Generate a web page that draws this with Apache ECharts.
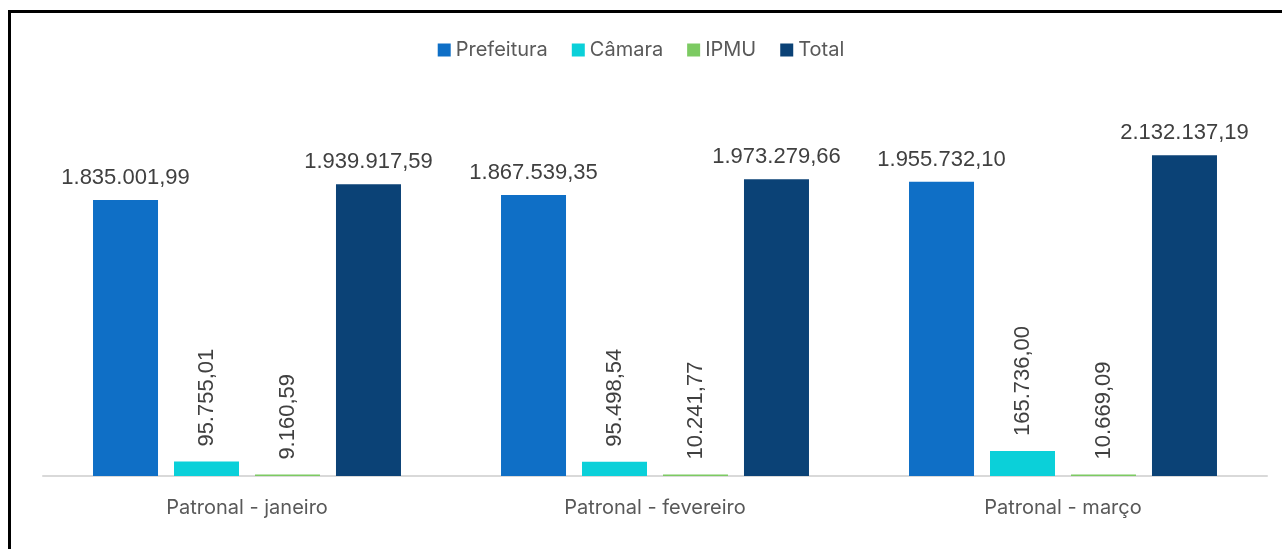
<!DOCTYPE html>
<html>
<head>
<meta charset="utf-8">
<script src="https://cdn.jsdelivr.net/npm/echarts@6/dist/echarts.min.js"></script>
<style>
  html, body { margin: 0; padding: 0; background: #fff; }
  .frame {
    position: absolute; left: 8px; top: 10px; width: 1290px; height: 560px;
    border-top: 3px solid #000; border-left: 3px solid #000;
  }
  #chart { position: absolute; left: 0; top: 0; width: 1282px; height: 549px; }
</style>
</head>
<body>
<div class="frame"></div>
<div id="chart"></div>
<script>
var categories = ['Patronal - janeiro', 'Patronal - fevereiro', 'Patronal - março'];
var prefeitura = [1835001.99, 1867539.35, 1955732.10];
var camara = [95755.01, 95498.54, 165736.00];
var ipmu = [9160.59, 10241.77, 10669.09];
var total = [1939917.59, 1973279.66, 2132137.19];

// formato brasileiro: 1.234.567,89
function fmtBR (v) {
  var parts = v.toFixed(2).split('.');
  var inteiro = parts[0].replace(/\B(?=(\d{3})+(?!\d))/g, '.');
  return inteiro + ',' + parts[1];
}

var labelTop = {
  show: true,
  position: 'top',
  distance: 11,
  color: '#404040',
  fontSize: 22,
  fontFamily: 'Liberation Sans',
  formatter: function (p) { return fmtBR(p.value); }
};
var labelRot = {
  show: true,
  position: 'top',
  distance: 15,
  rotate: 90,
  align: 'left',
  verticalAlign: 'middle',
  color: '#404040',
  fontSize: 22,
  fontFamily: 'Liberation Sans',
  formatter: function (p) { return fmtBR(p.value); }
};

var chart = echarts.init(document.getElementById('chart'));
chart.setOption({
  animation: false,
  legend: {
    top: 35,
    left: 'center',
    itemWidth: 13,
    itemHeight: 13,
    itemGap: 24,
    icon: 'rect',
    textStyle: { color: '#595959', fontSize: 20, fontFamily: 'Inter' },
    data: ['Prefeitura', 'Câmara', 'IPMU', 'Total']
  },
  grid: { left: 43, right: 15, top: 100, bottom: 73 },
  xAxis: {
    type: 'category',
    data: categories,
    axisLine: { lineStyle: { color: '#d9d9d9', width: 2 } },
    axisTick: { show: false },
    axisLabel: { color: '#595959', fontSize: 20, fontFamily: 'Inter', margin: 22 }
  },
  yAxis: {
    type: 'value',
    min: 0,
    max: 2500000,
    show: false,
    splitLine: { show: false }
  },
  series: [
    { name: 'Prefeitura', type: 'bar', data: prefeitura, barWidth: 65, barGap: '24.6%',
      itemStyle: { color: '#0F6FC6' }, label: labelTop },
    { name: 'Câmara', type: 'bar', data: camara, barWidth: 65, barGap: '24.6%',
      itemStyle: { color: '#0BD0D9' }, label: labelRot },
    { name: 'IPMU', type: 'bar', data: ipmu, barWidth: 65, barGap: '24.6%',
      itemStyle: { color: '#7CCA62' }, label: labelRot },
    { name: 'Total', type: 'bar', data: total, barWidth: 65, barGap: '24.6%',
      itemStyle: { color: '#0B4276' }, label: labelTop }
  ]
});
</script>
</body>
</html>
